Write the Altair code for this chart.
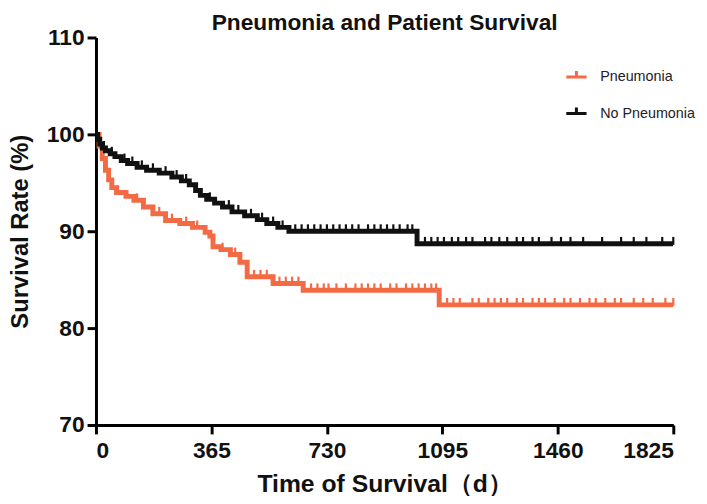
import altair as alt
import pandas as pd

# Kaplan-Meier step points (days, survival %)
pn_time = [0, 10, 20, 30, 40, 50, 65, 95, 120, 150, 180, 220, 265, 305, 345, 360, 370, 395, 425, 455, 478, 560, 655, 1085]
pn_surv = [100, 98.8, 97.5, 96.3, 95.3, 94.5, 94.0, 93.6, 93.2, 92.5, 91.8, 91.1, 90.8, 90.4, 89.9, 89.5, 88.4, 88.1, 87.6, 86.8, 85.3, 84.6, 83.9, 82.4]

np_time = [0, 5, 12, 20, 30, 45, 60, 80, 100, 130, 160, 200, 240, 270, 295, 315, 330, 350, 375, 400, 430, 470, 510, 540, 575, 610, 1015]
np_surv = [100, 99.5, 99.0, 98.6, 98.3, 98.0, 97.7, 97.3, 97.0, 96.6, 96.3, 96.0, 95.6, 95.2, 94.8, 94.2, 93.7, 93.3, 92.9, 92.5, 92.0, 91.6, 91.2, 90.8, 90.4, 90.0, 88.7]

# censored observations (days)
pn_censor = [70, 130, 200, 240, 285, 320, 400, 440, 500, 520, 540, 580, 600, 620, 640, 680, 700, 720, 735, 760, 790, 820, 840, 860, 880, 900, 930, 950, 980, 1000, 1020, 1040, 1060, 1075,
             1110, 1130, 1150, 1190, 1210, 1240, 1260, 1280, 1300, 1330, 1350, 1380, 1400, 1420, 1450, 1480, 1500, 1530, 1560, 1580, 1610, 1640, 1660, 1700, 1730, 1760, 1800, 1825]
np_censor = [25, 50, 90, 115, 145, 180, 220, 255, 285, 360, 420, 450, 490, 525, 560, 590, 630, 650, 670, 690, 710, 730, 750, 770, 790, 810, 830, 860, 880, 900, 920, 940, 960, 985, 1000,
             1040, 1060, 1080, 1100, 1125, 1145, 1170, 1190, 1230, 1250, 1275, 1300, 1330, 1350, 1380, 1400, 1440, 1470, 1500, 1540, 1600, 1660, 1700, 1740, 1790, 1825]

groups = ["Pneumonia", "No Pneumonia"]
colors = ["#F26B45", "#111111"]
x_ticks = [0, 365, 730, 1095, 1460, 1825]
y_ticks = [70, 80, 90, 100, 110]
title_text = ["Pneumonia and Patient Survival"]


def step_rows(times, surv, group):
    rows = [{"t": t, "s": s, "g": group} for t, s in zip(times, surv)]
    rows.append({"t": 1825, "s": surv[-1], "g": group})
    return rows


def censor_rows(ctimes, times, surv, group):
    rows = []
    for c in ctimes:
        val = surv[0]
        for t, s in zip(times, surv):
            if t <= c:
                val = s
        rows.append({"t": c, "s": val, "g": group})
    return rows


lines = pd.DataFrame(step_rows(pn_time, pn_surv, groups[0]) + step_rows(np_time, np_surv, groups[1]))
cens = pd.DataFrame(censor_rows(pn_censor, pn_time, pn_surv, groups[0]) + censor_rows(np_censor, np_time, np_surv, groups[1]))
titles = pd.DataFrame({"label": title_text})

bold = "Liberation Sans"

xenc = alt.X("t:Q", scale=alt.Scale(domain=[0, 1825], nice=False),
             axis=alt.Axis(values=x_ticks, format="d", title="Time of Survival（d）", titleFontSize=25,
                           titlePadding=9, labelPadding=6))
yenc = alt.Y("s:Q", scale=alt.Scale(domain=[70, 110], nice=False, zero=False),
             axis=alt.Axis(values=y_ticks, title="Survival Rate (%)", titleFontSize=24,
                           titlePadding=14, labelPadding=3))
color = alt.Color("g:N", scale=alt.Scale(domain=groups, range=colors),
                  legend=alt.Legend(title=None, orient="none", legendX=474, legendY=28,
                                    symbolType="M-1,0L1,0M0,0L0,-0.6", symbolSize=420,
                                    symbolStrokeWidth=3, labelFont="Liberation Sans",
                                    labelFontSize=14.5, labelColor="#222", labelOffset=12,
                                    rowPadding=17, padding=0))

line_layer = alt.Chart(lines).mark_line(interpolate="step-after", strokeWidth=5, clip=True).encode(
    x=xenc, y=yenc, color=color)
tick_layer = alt.Chart(cens).mark_tick(orient="vertical", size=8, thickness=2.2, yOffset=-3, opacity=1).encode(
    x="t:Q", y="s:Q", color=alt.Color("g:N", legend=None))
title_layer = alt.Chart(titles).mark_text(font=bold, fontSize=23, fontWeight="bold", color="#111",
                                          align="center", baseline="alphabetic").encode(
    text="label:N", x=alt.value(292), y=alt.value(-8))

chart = (line_layer + tick_layer + title_layer).properties(
    width=584, height=392,
    autosize=alt.AutoSizeParams(type="none"),
    padding={"left": 89, "top": 27, "right": 26, "bottom": 69},
).configure_view(stroke=None).configure_axis(
    domainColor="#000", domainWidth=3, tickColor="#000", tickWidth=3, tickSize=9,
    labelFont=bold, labelFontWeight="bold", labelFontSize=23, labelColor="#111",
    titleFont=bold, titleFontWeight="bold", titleColor="#111", grid=False,
)

chart.save("out.html", embed_options={"renderer": "svg", "actions": False})
